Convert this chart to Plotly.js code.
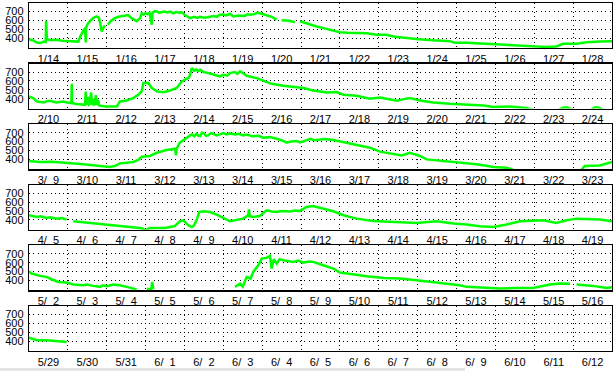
<!DOCTYPE html>
<html><head><meta charset="utf-8">
<script src="https://cdn.plot.ly/plotly-3.0.1.min.js"></script>
<style>html,body{margin:0;padding:0;background:#fff;overflow:hidden}#chart{width:615px;height:371px}</style>
</head><body><div id="chart"></div>
<script>
// Tick labels (one label per day, 15 days per row)
const labels1 = ['1/14','1/15','1/16','1/17','1/18','1/19','1/20','1/21','1/22','1/23','1/24','1/25','1/26','1/27','1/28'];
const labels2 = ['2/10','2/11','2/12','2/13','2/14','2/15','2/16','2/17','2/18','2/19','2/20','2/21','2/22','2/23','2/24'];
const labels3 = ['3/\u20079','3/10','3/11','3/12','3/13','3/14','3/15','3/16','3/17','3/18','3/19','3/20','3/21','3/22','3/23'];
const labels4 = ['4/\u20075','4/\u20076','4/\u20077','4/\u20078','4/\u20079','4/10','4/11','4/12','4/13','4/14','4/15','4/16','4/17','4/18','4/19'];
const labels5 = ['5/\u20072','5/\u20073','5/\u20074','5/\u20075','5/\u20076','5/\u20077','5/\u20078','5/\u20079','5/10','5/11','5/12','5/13','5/14','5/15','5/16'];
const labels6 = ['5/29','5/30','5/31','6/\u20071','6/\u20072','6/\u20073','6/\u20074','6/\u20075','6/\u20076','6/\u20077','6/\u20078','6/\u20079','6/10','6/11','6/12'];
const yTicks = [400, 500, 600, 700];

// Series: [day offset within the row, value]
const series1 = [[0,385],[0.1,375],[0.2,350],[0.3,345],[0.38,360],[0.43,355],[0.44,598],[0.46,390],[0.55,375],[0.7,380],[0.85,370],[1.0,372],[1.1,365],[1.27,360],[1.31,410],[1.38,470],[1.44,513],[1.46,350],[1.47,520],[1.52,569],[1.6,610],[1.65,625],[1.74,644],[1.8,630],[1.83,570],[1.87,474],[1.93,530],[1.96,540],[1.98,null],[2.03,550],[2.1,590],[2.21,625],[2.3,640],[2.42,650],[2.55,660],[2.64,625],[2.7,610],[2.77,590],[2.86,625],[2.9,680],[2.95,665],[3.0,680],[3.05,670],[3.1,685],[3.16,550],[3.17,680],[3.18,690],[3.24,705],[3.29,700],[3.35,685],[3.4,690],[3.48,700],[3.55,690],[3.63,698],[3.71,680],[3.8,695],[3.87,685],[3.93,690],[4.01,660],[4.14,625],[4.25,640],[4.33,628],[4.4,640],[4.5,630],[4.6,635],[4.75,650],[4.83,640],[4.91,663],[5.0,665],[5.08,655],[5.17,674],[5.26,644],[5.4,655],[5.55,650],[5.62,668],[5.69,663],[5.8,670],[5.87,685],[5.94,680],[6.03,668],[6.11,663],[6.25,640],[6.37,606],[6.42,null],[6.5,600],[6.7,595],[6.84,578],[6.9,null],[6.97,590],[7.1,570],[7.23,550],[7.4,530],[7.57,512],[7.7,500],[7.83,486],[8.0,467],[8.2,460],[8.43,455],[8.69,455],[8.94,437],[9.2,437],[9.37,418],[9.54,410],[9.8,392],[10.02,388],[10.4,375],[10.83,365],[10.96,346],[11.26,346],[11.77,335],[12.37,324],[12.97,309],[13.3,300],[13.57,305],[13.65,320],[13.74,335],[14.09,335],[14.35,354],[14.69,361],[15,365]];
const series2 = [[0,425],[0.11,407],[0.2,369],[0.37,358],[0.45,370],[0.54,377],[0.71,358],[0.88,369],[1.01,355],[1.09,350],[1.1,568],[1.11,350],[1.23,339],[1.35,335],[1.44,331],[1.46,480],[1.48,330],[1.52,420],[1.54,332],[1.55,335],[1.6,470],[1.62,330],[1.66,400],[1.68,332],[1.7,335],[1.72,440],[1.74,330],[1.78,390],[1.8,325],[1.83,320],[2.0,313],[2.26,313],[2.34,369],[2.51,380],[2.68,407],[2.81,444],[2.9,482],[2.94,576],[3.07,576],[3.16,520],[3.29,482],[3.45,474],[3.63,493],[3.8,520],[3.93,595],[4.06,621],[4.12,640],[4.19,745],[4.25,715],[4.3,730],[4.35,710],[4.4,726],[4.5,700],[4.61,689],[4.74,670],[4.91,651],[5.0,670],[5.1,660],[5.17,689],[5.3,700],[5.36,680],[5.43,708],[5.5,690],[5.6,659],[5.86,632],[6.07,595],[6.24,568],[6.54,546],[6.89,531],[7.06,520],[7.31,493],[7.5,480],[7.66,471],[7.92,474],[8.09,444],[8.43,433],[8.77,399],[9.03,414],[9.2,400],[9.46,377],[9.65,395],[9.8,407],[10.06,380],[10.4,358],[10.83,343],[11.26,335],[11.69,324],[11.95,305],[12.37,313],[12.8,294],[13.0,270],[13.6,270],[13.75,300],[13.85,300],[14.0,270],[14.45,270],[14.55,301],[14.65,301],[14.8,270],[15,270]];
const series3 = [[0,380],[0.28,369],[0.6,372],[0.97,362],[1.2,355],[1.4,343],[1.83,324],[2.08,313],[2.21,324],[2.34,354],[2.5,360],[2.68,369],[2.81,392],[2.9,429],[3.11,437],[3.29,474],[3.54,504],[3.7,515],[3.76,519],[3.78,444],[3.8,520],[3.88,587],[4.01,632],[4.1,655],[4.19,681],[4.25,660],[4.31,690],[4.36,665],[4.4,662],[4.45,700],[4.5,690],[4.56,665],[4.61,670],[4.68,695],[4.75,685],[4.83,670],[4.91,681],[5.0,695],[5.08,680],[5.17,692],[5.3,680],[5.4,688],[5.51,670],[5.6,678],[5.75,660],[5.9,665],[6.03,644],[6.2,650],[6.37,632],[6.5,615],[6.63,587],[6.75,600],[6.89,606],[6.97,590],[7.05,600],[7.15,620],[7.23,632],[7.35,615],[7.49,625],[7.6,630],[7.83,617],[8.09,595],[8.43,568],[8.77,531],[9.03,486],[9.37,463],[9.59,444],[9.8,474],[10.06,437],[10.23,399],[10.66,380],[11.09,354],[11.52,343],[11.95,313],[12.29,305],[12.5,275],[13.5,265],[14.2,275],[14.3,324],[14.69,331],[14.85,350],[15,369]];
const series4 = [[0,452],[0.2,433],[0.3,440],[0.45,422],[0.55,430],[0.71,414],[0.85,420],[0.97,403],[1.0,null],[1.14,384],[1.48,369],[1.83,358],[2.26,339],[2.6,320],[2.9,305],[3.0,280],[3.1,309],[3.5,309],[3.75,330],[3.88,384],[3.97,395],[4.1,339],[4.19,320],[4.25,340],[4.31,395],[4.38,489],[4.49,497],[4.66,489],[4.87,452],[5.17,384],[5.34,403],[5.51,414],[5.64,452],[5.66,519],[5.68,440],[5.77,433],[5.94,444],[6.11,508],[6.25,495],[6.37,489],[6.5,500],[6.71,495],[6.85,505],[6.97,501],[7.14,546],[7.31,557],[7.45,540],[7.57,527],[7.83,497],[8.09,452],[8.43,414],[8.86,388],[9.37,377],[9.97,365],[10.49,384],[10.92,358],[11.26,347],[11.6,328],[11.95,320],[12.29,347],[12.63,384],[12.97,395],[13.23,395],[13.57,365],[13.83,395],[14.09,414],[14.43,407],[14.69,403],[15,384]];
const series5 = [[0,497],[0.07,478],[0.28,452],[0.45,441],[0.58,414],[0.75,384],[0.97,377],[1.14,354],[1.4,347],[1.5,355],[1.65,339],[1.83,328],[1.9,345],[2.0,335],[2.17,354],[2.34,347],[2.51,328],[2.68,309],[2.77,300],[2.8,null],[3.03,305],[3.15,305],[3.17,384],[3.19,305],[3.2,305],[3.25,null],[5.3,328],[5.43,365],[5.5,330],[5.6,441],[5.7,420],[5.77,497],[5.9,572],[5.99,647],[6.11,655],[6.2,677],[6.24,535],[6.3,640],[6.37,591],[6.45,640],[6.54,629],[6.65,620],[6.8,610],[6.93,625],[7.06,602],[7.2,615],[7.31,610],[7.57,572],[7.83,535],[8.0,489],[8.34,467],[8.69,448],[9.12,429],[9.54,422],[9.97,403],[10.4,384],[10.83,362],[11.09,347],[11.26,328],[11.69,316],[12.12,309],[12.54,316],[12.97,316],[13.4,354],[13.66,365],[13.92,362],[13.95,null],[14.09,354],[14.51,339],[14.86,316],[15,325]];
const series6 = [[0,437],[0.1,422],[0.2,410],[0.45,408],[0.71,403],[0.88,392],[0.97,390]];

const allLabels = [labels1, labels2, labels3, labels4, labels5, labels6];
const allSeries = [series1, series2, series3, series4, series5, series6];

const FONT = 'Liberation Sans, Arial, sans-serif';
const plotH = 348, panelH = 45, pitch = (plotH - panelH) / 5;
const dotDash = '1px,3.3px';
const traces = [], layout = {
  width: 615, height: 371,
  margin: {l: 29, r: 3, t: 3, b: 20},
  paper_bgcolor: '#fff', plot_bgcolor: '#fff',
  showlegend: false,
  font: {family: FONT, size: 11, color: '#000'},
  shapes: [{type: 'rect', xref: 'paper', yref: 'paper', x0: -29/583, x1: 436/583, y0: -20/348, y1: -17/348, fillcolor: '#e4e4e4', line: {width: 0}, layer: 'below'}]
};
allSeries.forEach((s, i) => {
  const n = i + 1, sfx = n === 1 ? '' : String(n);
  traces.push({
    type: 'scatter', mode: 'lines',
    x: s.map(p => p[0]), y: s.map(p => p[1]),
    xaxis: 'x' + sfx, yaxis: 'y' + sfx,
    line: {color: '#00ff00', width: 2.5}, connectgaps: false, hoverinfo: 'skip'
  });
  const topPx = pitch * i;
  const dom = [Math.max(0, (plotH - topPx - panelH) / plotH), Math.min(1, (plotH - topPx) / plotH)];
  const labs = allLabels[i];
  layout['xaxis' + sfx] = {
    anchor: 'y' + sfx, range: [0, 15], domain: [0, 1],
    tickmode: 'array', tickvals: labs.map((_, k) => k + 0.5), ticktext: labs,
    ticks: '', showgrid: false, zeroline: false,
    showline: true, mirror: true, linecolor: '#000', linewidth: 1.3,
    tickfont: {family: FONT, size: 11, color: '#000'}, ticklabelstandoff: 0,
    minor: {tickmode: 'linear', tick0: 0, dtick: 1, showgrid: true, gridcolor: '#000', griddash: dotDash, gridwidth: 1, ticks: ''},
    fixedrange: true
  };
  layout['yaxis' + sfx] = {
    anchor: 'x' + sfx, domain: dom, range: [288, 796],
    tickmode: 'array', tickvals: yTicks, ticktext: yTicks.map(String),
    ticks: '', showgrid: true, gridcolor: '#000', griddash: dotDash, gridwidth: 1,
    zeroline: false, showline: true, mirror: true, linecolor: '#000', linewidth: 1.3,
    tickfont: {family: FONT, size: 11, color: '#000'}, ticklabelstandoff: 2,
    fixedrange: true
  };
});
Plotly.newPlot('chart', traces, layout, {displayModeBar: false, staticPlot: true});
</script></body></html>
